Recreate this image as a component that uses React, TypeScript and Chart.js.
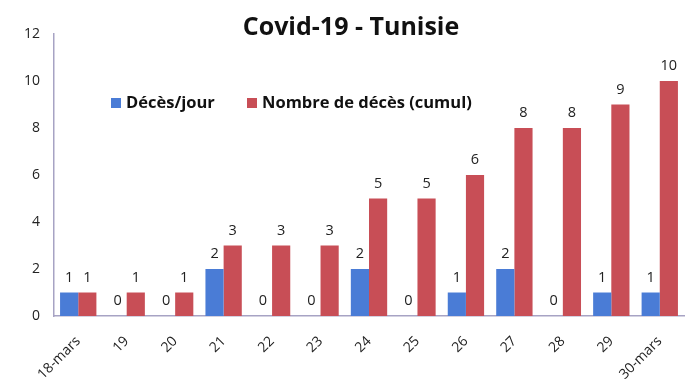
import React, { useEffect, useRef } from "react";
import { Chart, registerables } from "chart.js";

Chart.register(...registerables);

const TITLE = "Covid-19 - Tunisie";
const CATEGORIES = ["18-mars", "19", "20", "21", "22", "23", "24", "25", "26", "27", "28", "29", "30-mars"];
const DAILY_LABEL = "Décès/jour";
const CUMUL_LABEL = "Nombre de décès (cumul)";
const DAILY = [1, 0, 0, 2, 0, 0, 2, 0, 1, 2, 0, 1, 1];
const CUMUL = [1, 1, 1, 3, 3, 3, 5, 5, 6, 8, 8, 9, 10];
const Y_MAX = 12;
const Y_STEP = 2;

const BLUE = "#4A7CD6";
const RED = "#C84E56";
const AXIS = "#A7A3C4";
const TEXT = "#222222";
const FONT = "'Open Sans', 'DejaVu Sans', sans-serif";

const overlayPlugin = {
  id: "overlay",
  afterDatasetsDraw(chart: any) {
    const ctx = chart.ctx;
    ctx.save();
    // value labels
    ctx.font = `14.5px ${FONT}`;
    ctx.fillStyle = TEXT;
    ctx.textAlign = "center";
    ctx.textBaseline = "alphabetic";
    chart.data.datasets.forEach((ds: any, i: number) => {
      const meta = chart.getDatasetMeta(i);
      meta.data.forEach((bar: any, j: number) => {
        ctx.fillText(String(ds.data[j]), bar.x, bar.y - 11);
      });
    });
    // title
    ctx.font = `bold 25px ${FONT}`;
    ctx.fillStyle = "#111111";
    ctx.textBaseline = "alphabetic";
    ctx.fillText(TITLE, 351, 35);
    // legend
    ctx.font = `bold 16.5px ${FONT}`;
    ctx.textAlign = "left";
    ctx.textBaseline = "middle";
    const items = [
      { label: DAILY_LABEL, color: BLUE, x: 111 },
      { label: CUMUL_LABEL, color: RED, x: 247 },
    ];
    items.forEach((it) => {
      ctx.fillStyle = it.color;
      ctx.fillRect(it.x, 98, 10, 10);
      ctx.fillStyle = "#111111";
      ctx.fillText(it.label, it.x + 15, 103);
    });
    ctx.restore();
  },
};

export default function App() {
  const ref = useRef<HTMLCanvasElement>(null);
  useEffect(() => {
    if (!ref.current) return;
    const chart = new Chart(ref.current, {
      type: "bar",
      data: {
        labels: CATEGORIES,
        datasets: [
          { label: DAILY_LABEL, data: DAILY, backgroundColor: BLUE },
          { label: CUMUL_LABEL, data: CUMUL, backgroundColor: RED },
        ],
      },
      options: {
        animation: false,
        responsive: true,
        maintainAspectRatio: false,
        layout: { padding: { top: 34, right: 16, left: 0, bottom: 0 } },
        datasets: { bar: { categoryPercentage: 0.75, barPercentage: 1 } },
        plugins: {
          legend: { display: false },
          title: { display: false },
          tooltip: { enabled: false },
        },
        scales: {
          x: {
            grid: { display: false, drawTicks: false },
            border: { display: true, color: AXIS, width: 1.5 },
            ticks: {
              color: TEXT,
              font: { family: FONT, size: 14 },
              minRotation: 45,
              maxRotation: 45,
              padding: 17,
            },
            afterFit: (s: any) => {
              s.height = 75;
            },
          },
          y: {
            min: 0,
            max: Y_MAX,
            grid: { display: false, drawTicks: false },
            border: { display: true, color: AXIS, width: 1.5 },
            ticks: {
              stepSize: Y_STEP,
              color: TEXT,
              font: { family: FONT, size: 14 },
              padding: 14,
            },
            afterFit: (s: any) => {
              s.width = 54;
            },
          },
        },
      },
      plugins: [overlayPlugin],
    });
    return () => chart.destroy();
  }, []);
  return (
    <div style={{ position: "absolute", left: 0, top: 0, width: 700, height: 391, background: "#fff" }}>
      <canvas ref={ref} />
    </div>
  );
}
